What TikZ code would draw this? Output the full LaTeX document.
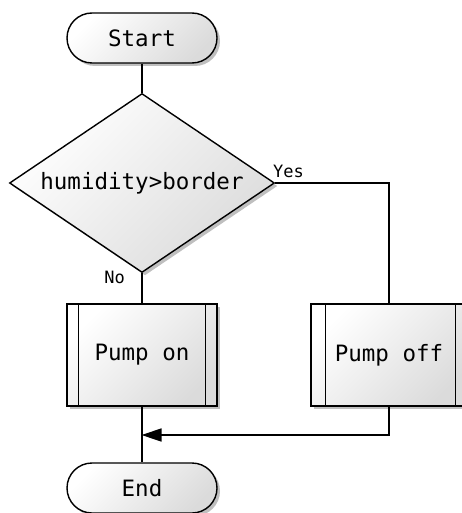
\documentclass[tikz,border=0pt]{standalone}
\usepackage{fontspec}
\setmonofont{DejaVu Sans Mono}
\usetikzlibrary{shapes.geometric,shadows,arrows.meta}

\tikzset{
  boxfill/.style={draw=black, line width=1.4pt,
    top color=white, bottom color=black!14, shading angle=45,
    drop shadow={shadow xshift=3pt, shadow yshift=-3pt, fill=black!50, opacity=0.5}},
  terminal/.style={boxfill, rectangle, rounded corners=25pt,
    minimum width=150pt, minimum height=50pt, inner sep=0pt},
  decision/.style={boxfill, diamond, shape aspect=1.48,
    minimum width=265pt, minimum height=179pt, inner sep=0pt},
  process/.style={boxfill, rectangle, minimum height=102pt, inner sep=0pt},
  maintext/.style={font=\ttfamily\fontsize{22.5}{26}\selectfont},
  branchtext/.style={font=\ttfamily\fontsize{17}{20}\selectfont, inner sep=0pt},
  flow/.style={draw=black, line width=1.4pt},
}

\begin{document}
\begin{tikzpicture}[x=1pt,y=-1pt]
  \useasboundingbox (0,0) rectangle (462,513);
  \clip (0,0) rectangle (462,513);

  % nodes
  \node[terminal, maintext] (start) at (142,38) {Start};
  \node[decision, maintext] (dec) at (142,183) {humidity>border};
  \node[process, maintext, minimum width=150pt] (pon) at (142,355) {Pump on};
  \node[process, maintext, minimum width=156pt] (poff) at (389,355) {Pump off};
  \node[terminal, maintext] (end) at (142,488) {End};

  % side bars of the process boxes
  \draw[flow] ([xshift=12pt]pon.north west) -- ([xshift=12pt]pon.south west);
  \draw[flow] ([xshift=-12pt]pon.north east) -- ([xshift=-12pt]pon.south east);
  \draw[flow] ([xshift=15pt]poff.north west) -- ([xshift=15pt]poff.south west);
  \draw[flow] ([xshift=-12pt]poff.north east) -- ([xshift=-12pt]poff.south east);

  % connectors
  \coordinate (yesturn) at (poff.north |- dec.east);
  \coordinate (offturn) at (poff.south |- 0,435);
  \coordinate (join) at (pon.south |- 0,435);

  \draw[flow] (start) -- (dec);
  \draw[flow] (dec.east) -- (yesturn) -- (poff.north);
  \draw[flow] (dec.south) -- (pon.north);
  \draw[flow] (pon.south) -- (end.north);
  \draw[flow, -{Triangle[length=20pt,width=13pt]}, shorten >=-1.5pt]
    (poff.south) -- (offturn) -- ([xshift=1pt]join);

  % branch labels
  \node[branchtext, anchor=south west] (yes) at (273,178) {Yes};
  \node[branchtext, anchor=south east] (no) at (125,284) {No};
\end{tikzpicture}
\end{document}
